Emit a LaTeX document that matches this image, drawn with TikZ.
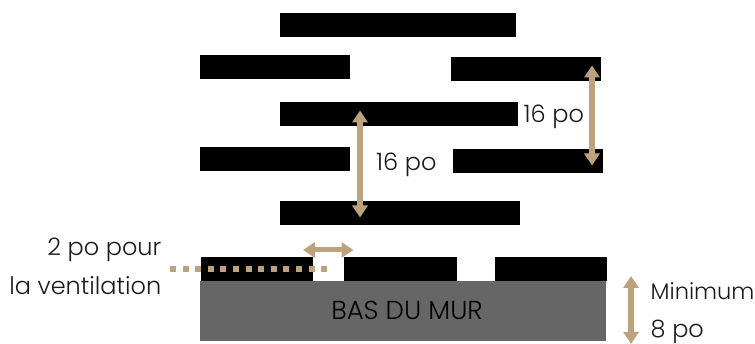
\documentclass[tikz,border=0pt]{standalone}
\usepackage{fontspec}
\setmainfont{Poppins}[UprightFont=* Light]
\usetikzlibrary{arrows.meta}
\definecolor{tan}{HTML}{BDA27E}
\definecolor{wall}{HTML}{666666}
\definecolor{ink}{HTML}{1A1A1A}
\tikzset{
  x=1pt,y=-1pt,
  brick/.style={fill=black,draw=none,inner sep=0pt,outer sep=0pt,anchor=north west,minimum height=24pt},
  wallbox/.style={fill=wall,draw=none,inner sep=0pt,outer sep=0pt,anchor=north west,minimum height=60pt,minimum width=406pt},
  lab/.style={inner sep=0pt,text=ink,font=\fontsize{24}{24}\selectfont},
  dim/.style={draw=tan,line width=6pt,{Triangle[length=12pt,width=15pt]}-{Triangle[length=12pt,width=15pt]}},
  vent/.style={draw=tan,line width=6pt,dash pattern=on 6pt off 6.6pt}
}
\begin{document}
\begin{tikzpicture}
\useasboundingbox (0,0) rectangle (755,344);
\node[brick,minimum width=236pt] (b1) at (280,13) {};
\node[brick,minimum width=150pt] (b2) at (200,55) {};
\node[brick,minimum width=150pt] (b3) at (451,57) {};
\node[brick,minimum width=238pt] (b4) at (280,102) {};
\node[brick,minimum width=150pt] (b5) at (200,147) {};
\node[brick,minimum width=150pt] (b6) at (453,149) {};
\node[brick,minimum width=240pt] (b7) at (280,201) {};
\node[brick,minimum width=112pt] (b8) at (201,257) {};
\node[brick,minimum width=113pt] (b9) at (344,257) {};
\node[brick,minimum width=112pt] (b10) at (495,257) {};
\node[wallbox] (mur) at (200,281) {};
\node[lab,anchor=base,font=\fontsize{26}{26}\selectfont,text=black] (murtxt) at (407,320) {BAS DU MUR};
\coordinate (a1) at (592,65.5); \coordinate (a2) at (592,165.5);
\coordinate (c1) at (360,110.5); \coordinate (c2) at (360,217.5);
\coordinate (d1) at (303,250); \coordinate (d2) at (353.5,250);
\coordinate (e1) at (631,276); \coordinate (e2) at (631,344);
\coordinate (v1) at (170,269); \coordinate (v2) at (327,269);
\draw[dim] (a1) -- (a2);
\draw[dim] (c1) -- (c2);
\draw[dim,line width=5pt] (d1) -- (d2);
\draw[dim] (e1) -- (e2);
\draw[vent] (v1) -- (v2);
\node[lab,anchor=base west] (t1) at (523.5,123) {16 po};
\node[lab,anchor=base west] (t2) at (376,171) {16 po};
\node[lab,anchor=base east] (t3) at (161.5,256) {2 po pour};
\node[lab,anchor=base east] (t4) at (161.5,295) {la ventilation};
\node[lab,anchor=base west,font=\fontsize{22.5}{24}\selectfont] (t5) at (650.5,300) {Minimum};
\node[lab,anchor=base west] (t6) at (650.5,337.5) {8 po};
\end{tikzpicture}
\end{document}
